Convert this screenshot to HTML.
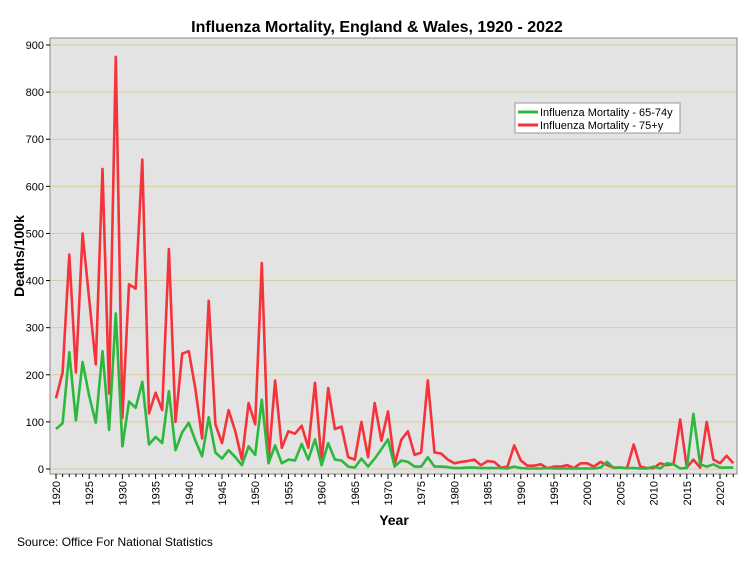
<!DOCTYPE html>
<html><head><meta charset="utf-8"><style>
body{margin:0;background:#fff;font-family:"Liberation Sans",Arial,sans-serif}
svg text{font-family:"Liberation Sans",Arial,sans-serif}
</style></head><body>
<svg width="754" height="564" viewBox="0 0 754 564">
<rect x="0" y="0" width="754" height="564" fill="#fff"/>
<text x="377" y="32" text-anchor="middle" font-size="16" font-weight="bold">Influenza Mortality, England &amp; Wales, 1920 - 2022</text>
<rect x="50" y="38" width="687" height="436" fill="#e3e3e3" stroke="#888" stroke-width="1"/>
<g id="grid"></g>
<g id="yaxis"></g>
<g id="xaxis"></g>
<g id="series"></g>
<text transform="translate(24,256) rotate(-90)" text-anchor="middle" font-size="14" font-weight="bold">Deaths/100k</text>
<text x="394" y="525" text-anchor="middle" font-size="14" font-weight="bold">Year</text>
<text x="17" y="546" font-size="12">Source: Office For National Statistics</text>
<g>
<rect x="515" y="103" width="165" height="30" fill="#fff" stroke="#999"/>
<line x1="518" y1="112" x2="538" y2="112" stroke="#2db83d" stroke-width="3"/>
<text x="540" y="116" font-size="11">Influenza Mortality -  65-74y</text>
<line x1="518" y1="125" x2="538" y2="125" stroke="#f5333a" stroke-width="3"/>
<text x="540" y="129" font-size="11">Influenza Mortality -  75+y</text>
</g>
</svg>
<script>
const startYear = 1920;
const yTicks = [0,100,200,300,400,500,600,700,800,900];
const xTickYears = [1920,1925,1930,1935,1940,1945,1950,1955,1960,1965,1970,1975,1980,1985,1990,1995,2000,2005,2010,2015,2020];
const green6574 = [85,97,248,103,227,155,98,250,83,330,
48,143,130,185,52,68,55,165,40,78,
98,60,27,110,35,22,40,25,8,48,
30,147,12,50,12,20,18,53,20,63,
8,55,20,18,5,3,22,5,22,42,
63,5,18,15,5,5,25,5,5,4,
2,2,3,3,2,2,2,2,1,5,
2,1,1,1,2,1,1,1,1,1,
1,1,3,15,2,3,2,2,1,1,
5,1,12,10,1,2,117,10,5,10,
3,3,3];
const red75 = [150,205,455,205,500,360,222,637,160,875,
108,392,383,657,118,162,125,467,100,245,
250,170,65,357,95,55,125,80,20,140,
95,437,15,188,45,80,75,92,45,183,
15,172,85,90,25,20,100,25,140,60,
122,10,62,80,30,35,188,35,33,20,
12,15,17,20,8,17,15,3,5,50,
18,7,7,10,2,5,5,8,2,12,
12,5,15,8,3,3,2,52,5,2,
2,12,8,10,105,3,20,3,100,20,
12,28,12];
const NS="http://www.w3.org/2000/svg";
const X = yr => 56 + (yr-1920)*6.64;
const Y = v => 469 - v*(424/900);
function mk(tag, attrs, parent){const e=document.createElementNS(NS,tag);for(const k in attrs)e.setAttribute(k,attrs[k]);document.getElementById(parent).appendChild(e);return e;}
yTicks.forEach(t=>{
  if(t>0){const g=mk('line',{x1:51,x2:736,y1:Y(t),y2:Y(t),stroke:'#d4cf9c','stroke-width':1},'grid');
  
  }
  const tk=mk('line',{x1:46,x2:50,y1:Y(t),y2:Y(t),stroke:'#000'},'yaxis');
  
  
  const tx=mk('text',{x:44,y:Y(t)+4,'text-anchor':'end','font-size':11},'yaxis');
  tx.textContent=t;
  
  
});
const z=mk('line',{x1:51,x2:736,y1:Y(0),y2:Y(0),stroke:'#d4cf9c'},'grid');


for(let yr=1920;yr<=2022;yr++){
  const tk=mk('line',{x1:X(yr),x2:X(yr),y1:474,y2:xTickYears.includes(yr)?479:477,stroke:'#000'},'xaxis');
  
  
}
xTickYears.forEach(yr=>{
  const tx=mk('text',{transform:`translate(${X(yr)+4},481) rotate(-90)`,'text-anchor':'end','font-size':11},'xaxis');
  tx.textContent=yr;
  
  
});
function line(data,color,name){
  const pts=data.map((v,i)=>X(startYear+i).toFixed(1)+','+Y(v).toFixed(1)).join(' ');
  const p=mk('polyline',{points:pts,fill:'none',stroke:color,'stroke-width':2.6,'stroke-linejoin':'round'},'series');
  
  
}
line(red75,'#f5333a','series-75plus');
line(green6574,'#2db83d','series-65-74');
</script>
</body></html>
